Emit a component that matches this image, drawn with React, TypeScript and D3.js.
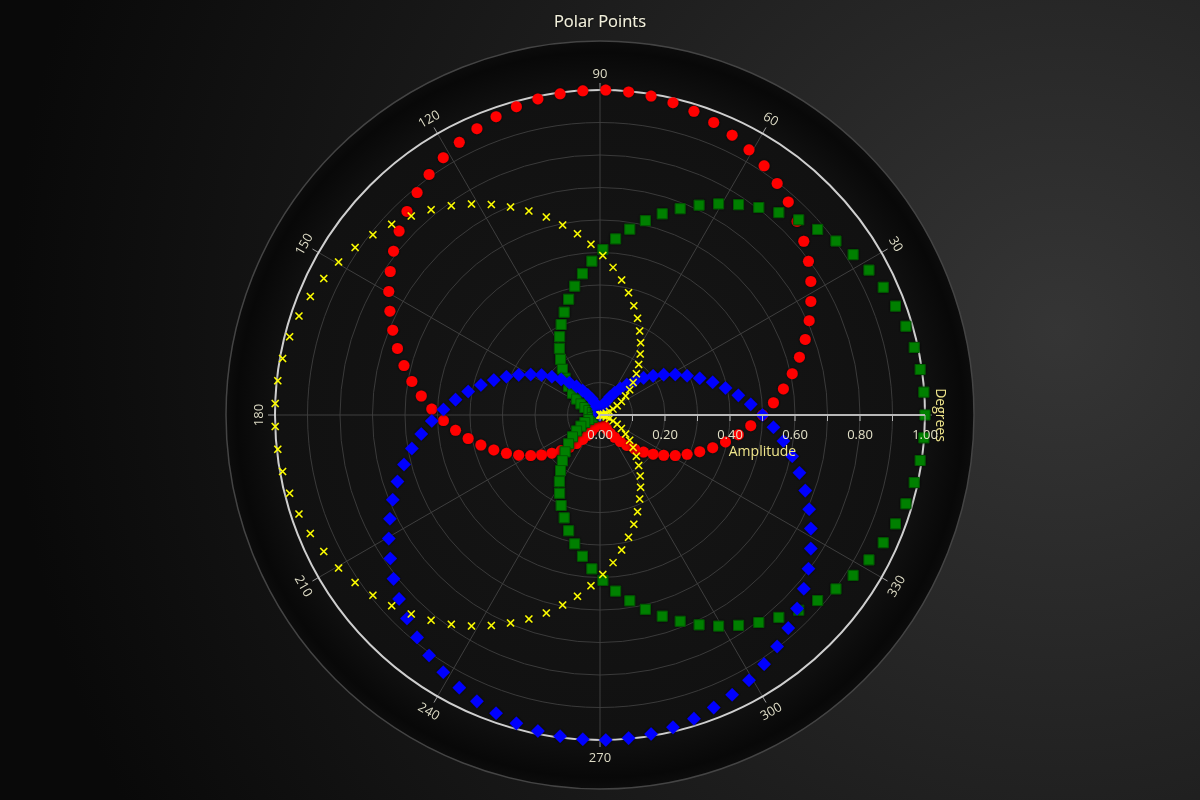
import React from 'react';
import * as d3 from 'd3';

// sample angles (degrees) shared by every series
const ANGLES = [
  0, 4.04, 8.09, 12.13, 16.18, 20.22, 24.27, 28.31, 32.36, 36.4, 40.45, 44.49, 48.54, 52.58, 56.63,
  60.67, 64.72, 68.76, 72.81, 76.85, 80.9, 84.94, 88.99, 93.03, 97.08, 101.12, 105.17, 109.21,
  113.26, 117.3, 121.35, 125.39, 129.44, 133.48, 137.53, 141.57, 145.62, 149.66, 153.71, 157.75,
  161.8, 165.84, 169.89, 173.93, 177.98, 182.02, 186.07, 190.11, 194.16, 198.2, 202.25, 206.29,
  210.34, 214.38, 218.43, 222.47, 226.52, 230.56, 234.61, 238.65, 242.7, 246.74, 250.79, 254.83,
  258.88, 262.92, 266.97, 271.01, 275.06, 279.1, 283.15, 287.19, 291.24, 295.28, 299.33, 303.37,
  307.42, 311.46, 315.51, 319.55, 323.6, 327.64, 331.69, 335.73, 339.78, 343.82, 347.87, 351.91,
  355.96,
];

const RED_AMP = [
  0.5, 0.535, 0.57, 0.605, 0.639, 0.673, 0.706, 0.737, 0.768, 0.797, 0.824, 0.85, 0.875, 0.897,
  0.918, 0.936, 0.952, 0.966, 0.978, 0.987, 0.994, 0.998, 1.0, 0.999, 0.996, 0.991, 0.983, 0.972,
  0.959, 0.944, 0.927, 0.908, 0.886, 0.863, 0.838, 0.811, 0.782, 0.753, 0.721, 0.689, 0.656, 0.622,
  0.588, 0.553, 0.518, 0.482, 0.447, 0.412, 0.378, 0.344, 0.311, 0.279, 0.247, 0.218, 0.189, 0.162,
  0.137, 0.114, 0.092, 0.073, 0.056, 0.041, 0.028, 0.017, 0.009, 0.004, 0.001, 0.0, 0.002, 0.006,
  0.013, 0.022, 0.034, 0.048, 0.064, 0.082, 0.103, 0.125, 0.15, 0.176, 0.203, 0.232, 0.263, 0.294,
  0.327, 0.361, 0.395, 0.43, 0.465,
];

const GREEN_AMP = [
  1.0, 0.999, 0.995, 0.989, 0.98, 0.969, 0.956, 0.94, 0.922, 0.902, 0.88, 0.857, 0.831, 0.804,
  0.775, 0.745, 0.714, 0.681, 0.648, 0.614, 0.579, 0.544, 0.509, 0.474, 0.438, 0.404, 0.369, 0.335,
  0.303, 0.271, 0.24, 0.21, 0.182, 0.156, 0.131, 0.108, 0.087, 0.068, 0.052, 0.037, 0.025, 0.015,
  0.008, 0.003, 0.0, 0.0, 0.003, 0.008, 0.015, 0.025, 0.037, 0.052, 0.068, 0.087, 0.108, 0.131,
  0.156, 0.182, 0.21, 0.24, 0.271, 0.303, 0.335, 0.369, 0.404, 0.438, 0.474, 0.509, 0.544, 0.579,
  0.614, 0.648, 0.681, 0.714, 0.745, 0.775, 0.804, 0.831, 0.857, 0.88, 0.902, 0.922, 0.94, 0.956,
  0.969, 0.98, 0.989, 0.995, 0.999,
];

const BLUE_AMP = [
  0.5, 0.465, 0.43, 0.395, 0.361, 0.327, 0.294, 0.263, 0.232, 0.203, 0.176, 0.15, 0.125, 0.103,
  0.082, 0.064, 0.048, 0.034, 0.022, 0.013, 0.006, 0.002, 0.0, 0.001, 0.004, 0.009, 0.017, 0.028,
  0.041, 0.056, 0.073, 0.092, 0.114, 0.137, 0.162, 0.189, 0.218, 0.247, 0.279, 0.311, 0.344, 0.378,
  0.412, 0.447, 0.482, 0.518, 0.553, 0.588, 0.622, 0.656, 0.689, 0.721, 0.753, 0.782, 0.811, 0.838,
  0.863, 0.886, 0.908, 0.927, 0.944, 0.959, 0.972, 0.983, 0.991, 0.996, 0.999, 1.0, 0.998, 0.994,
  0.987, 0.978, 0.966, 0.952, 0.936, 0.918, 0.897, 0.875, 0.85, 0.824, 0.797, 0.768, 0.737, 0.706,
  0.673, 0.639, 0.605, 0.57, 0.535,
];

const YELLOW_AMP = [
  0.0, 0.001, 0.005, 0.011, 0.02, 0.031, 0.044, 0.06, 0.078, 0.098, 0.12, 0.143, 0.169, 0.196,
  0.225, 0.255, 0.286, 0.319, 0.352, 0.386, 0.421, 0.456, 0.491, 0.526, 0.562, 0.596, 0.631, 0.665,
  0.697, 0.729, 0.76, 0.79, 0.818, 0.844, 0.869, 0.892, 0.913, 0.932, 0.948, 0.963, 0.975, 0.985,
  0.992, 0.997, 1.0, 1.0, 0.997, 0.992, 0.985, 0.975, 0.963, 0.948, 0.932, 0.913, 0.892, 0.869,
  0.844, 0.818, 0.79, 0.76, 0.729, 0.697, 0.665, 0.631, 0.596, 0.562, 0.526, 0.491, 0.456, 0.421,
  0.386, 0.352, 0.319, 0.286, 0.255, 0.225, 0.196, 0.169, 0.143, 0.12, 0.098, 0.078, 0.06, 0.044,
  0.031, 0.02, 0.011, 0.005, 0.001,
];

const ANGLE_TICKS = [30, 60, 90, 120, 150, 180, 210, 240, 270, 300, 330];
const RADIAL_TICKS = [0, 0.1, 0.2, 0.3, 0.4, 0.5, 0.6, 0.7, 0.8, 0.9, 1.0];
const RADIAL_LABELS = [0, 0.2, 0.4, 0.6, 0.8, 1.0];

const W = 1200;
const H = 800;
const CX = 600;
const CY = 415;
const R = 325;
const FONT = '"Open Sans", "Noto Sans", sans-serif';

const rScale = d3.scaleLinear().domain([0, 1]).range([0, R]);
const toRad = (deg: number) => (deg * Math.PI) / 180;
const px = (deg: number, r: number) => CX + r * Math.cos(toRad(deg));
const py = (deg: number, r: number) => CY - r * Math.sin(toRad(deg));

const circleSym = d3.symbol().type(d3.symbolCircle).size(Math.PI * 5.5 * 5.5)();
const squareSym = d3.symbol().type(d3.symbolSquare).size(100)();
const diamondSym = 'M0,-6.8L6.8,0L0,6.8L-6.8,0Z';
const xSym = 'M-3.5,-3.5L3.5,3.5M-3.5,3.5L3.5,-3.5';

const series = [
  { name: 'red', amps: RED_AMP, path: circleSym, fill: '#ff0000', stroke: 'none' },
  { name: 'green', amps: GREEN_AMP, path: squareSym, fill: '#008000', stroke: '#005a00' },
  { name: 'blue', amps: BLUE_AMP, path: diamondSym, fill: '#0000ff', stroke: 'none' },
  { name: 'yellow', amps: YELLOW_AMP, path: xSym, fill: 'none', stroke: '#ffff00' },
];

function labelRotation(a: number) {
  let rot = 90 - a;
  if (rot < -90) rot += 180;
  return rot;
}

export default function App() {
  return (
    <div style={{ position: 'fixed', left: 0, top: 0 }}>
      <svg width={W} height={H} style={{ display: 'block' }}>
        <defs>
          <radialGradient id="bg" cx="1060" cy="330" r="1050" gradientUnits="userSpaceOnUse">
            <stop offset="0" stopColor="#353535" />
            <stop offset="0.55" stopColor="#1c1c1c" />
            <stop offset="1" stopColor="#090909" />
          </radialGradient>
          <radialGradient id="disk" cx={CX} cy={CY} r={374} gradientUnits="userSpaceOnUse">
            <stop offset="0" stopColor="#161616" />
            <stop offset="0.86" stopColor="#111111" />
            <stop offset="0.97" stopColor="#080808" />
            <stop offset="1" stopColor="#0c0c0c" />
          </radialGradient>
          <filter id="glow" x="-50%" y="-50%" width="200%" height="200%">
            <feGaussianBlur in="SourceAlpha" stdDeviation="1.5" result="b" />
            <feFlood floodColor="#000" floodOpacity="0.8" />
            <feComposite in2="b" operator="in" />
            <feMerge>
              <feMergeNode />
              <feMergeNode in="SourceGraphic" />
            </feMerge>
          </filter>
        </defs>

        <rect x={0} y={0} width={W} height={H} fill="url(#bg)" />

        <text x={CX} y={27} textAnchor="middle" fontFamily={FONT} fontSize={16.5}
          fill="#f2f0dc" filter="url(#glow)">Polar Points</text>

        {/* outer disk */}
        <circle cx={CX} cy={CY} r={374} fill="url(#disk)" stroke="#444" strokeWidth={1.5} />

        {/* grid circles */}
        {RADIAL_TICKS.filter(t => t > 0 && t < 1).map(t => (
          <circle key={t} cx={CX} cy={CY} r={rScale(t)} fill="none" stroke="#3a3a3a" strokeWidth={1} />
        ))}

        {/* spokes */}
        {ANGLE_TICKS.map(a => (
          <line key={a} x1={CX} y1={CY} x2={px(a, R)} y2={py(a, R)} stroke="#3f3f3f" strokeWidth={1} />
        ))}
        {[0, ...ANGLE_TICKS].map(a => (
          <line key={'t' + a} x1={px(a, R)} y1={py(a, R)} x2={px(a, R + 7)} y2={py(a, R + 7)}
            stroke="#9a9a9a" strokeWidth={1} />
        ))}

        <circle cx={CX} cy={CY} r={R} fill="none" stroke="#cfcfcf" strokeWidth={2} />

        {/* angle labels */}
        {ANGLE_TICKS.map(a => {
          const x = px(a, R + 17);
          const y = py(a, R + 17);
          return (
            <text key={'l' + a} x={x} y={y} dy="0.35em" textAnchor="middle" fontFamily={FONT}
              fontSize={13} fill="#dedcc6" transform={`rotate(${labelRotation(a)},${x},${y})`}>
              {a}
            </text>
          );
        })}
        <text x={px(0, R + 16)} y={CY} dy="0.35em" textAnchor="middle" fontFamily={FONT} fontSize={14}
          fill="#f0e68c" transform={`rotate(90,${px(0, R + 16)},${CY})`}>Degrees</text>

        {/* series markers */}
        {series.map(s => (
          <g key={s.name} filter="url(#glow)">
            {s.amps.map((amp, i) => {
              const x = px(ANGLES[i], rScale(amp));
              const y = py(ANGLES[i], rScale(amp));
              return (
                <path key={i} d={s.path as string} transform={`translate(${x},${y})`}
                  fill={s.fill} stroke={s.stroke}
                  strokeWidth={s.name === 'yellow' ? 1.4 : 1} />
              );
            })}
          </g>
        ))}

        {/* radial axis */}
        <line x1={CX} y1={CY} x2={CX + R} y2={CY} stroke="#b8b8b8" strokeWidth={2} />
        {RADIAL_TICKS.map(t => (
          <line key={'rt' + t} x1={CX + rScale(t)} y1={CY} x2={CX + rScale(t)} y2={CY + 6}
            stroke="#b8b8b8" strokeWidth={1} />
        ))}
        {RADIAL_LABELS.map(t => (
          <text key={'rl' + t} x={CX + rScale(t)} y={CY + 24} textAnchor="middle" fontFamily={FONT}
            fontSize={13} fill="#e2e0c8">{d3.format('.2f')(t)}</text>
        ))}
        <text x={CX + rScale(0.5)} y={CY + 41} textAnchor="middle" fontFamily={FONT} fontSize={14}
          fill="#f0e68c">Amplitude</text>
      </svg>
    </div>
  );
}
